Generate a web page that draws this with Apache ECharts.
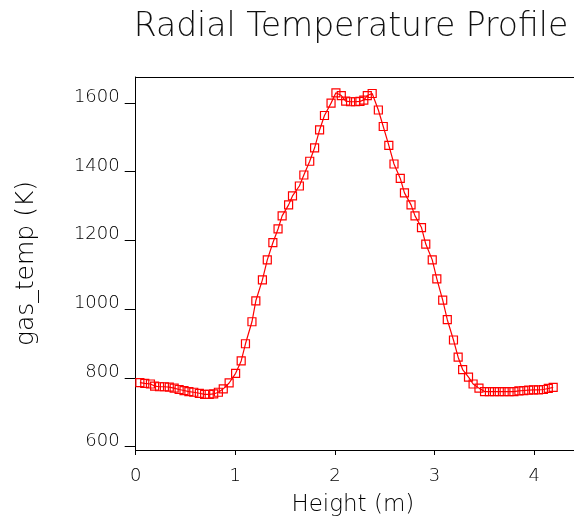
<!DOCTYPE html>
<html>
<head>
<meta charset="utf-8">
<script src="https://cdn.jsdelivr.net/npm/echarts@6/dist/echarts.min.js"></script>
<style>
  html, body { margin: 0; padding: 0; background: #ffffff; }
  #chart { width: 574px; height: 522px; }
</style>
</head>
<body>
<div id="chart"></div>
<script>
// Radial gas temperature along the height of the domain
const heights = [
  0.042, 0.091, 0.148, 0.190, 0.239, 0.288, 0.337, 0.386, 0.436, 0.485,
  0.534, 0.583, 0.639, 0.692, 0.738, 0.783, 0.830, 0.879, 0.938, 1.003,
  1.059, 1.102, 1.167, 1.206, 1.272, 1.321, 1.377, 1.429, 1.470, 1.535,
  1.574, 1.643, 1.688, 1.747, 1.796, 1.846, 1.895, 1.961, 2.010, 2.064,
  2.108, 2.157, 2.207, 2.251, 2.290, 2.325, 2.374, 2.436, 2.485, 2.541,
  2.593, 2.656, 2.698, 2.764, 2.804, 2.869, 2.912, 2.977, 3.023, 3.082,
  3.128, 3.190, 3.237, 3.282, 3.341, 3.387, 3.446, 3.502, 3.551, 3.601,
  3.650, 3.699, 3.748, 3.797, 3.847, 3.896, 3.945, 3.994, 4.043, 4.093,
  4.142, 4.191
];
const gasTemp = [
  786, 784, 782, 776, 774, 774, 773, 770, 766, 763,
  760, 758, 755, 752, 752, 753, 758, 768, 785, 813,
  849, 899, 963, 1024, 1085, 1143, 1193, 1233, 1271, 1303,
  1329, 1358, 1390, 1430, 1469, 1521, 1563, 1599, 1629, 1621,
  1605, 1603, 1603, 1604, 1608, 1621, 1627, 1579, 1531, 1476,
  1422, 1380, 1338, 1303, 1271, 1237, 1189, 1143, 1088, 1026,
  969, 910, 860, 824, 802, 782, 770, 760, 760, 760,
  760, 760, 760, 760, 762, 763, 764, 765, 765, 766,
  769, 772
];
const xTicks = [0, 1, 2, 3, 4];
const yTicks = [600, 800, 1000, 1200, 1400, 1600];

const FONT = "'DejaVu Sans', sans-serif";
const INK = '#000000';
const RED = '#ff0000';

const chart = echarts.init(document.getElementById('chart'), null, { renderer: 'canvas' });

const axisText = { color: INK, fontFamily: FONT, fontSize: 18, fontWeight: 200 };

chart.setOption({
  animation: false,
  backgroundColor: '#ffffff',
  title: {
    text: 'Radial Temperature Profile',
    left: 346,
    top: 6,
    textAlign: 'center',
    textStyle: { color: '#111111', fontFamily: FONT, fontSize: 33, fontWeight: 200 }
  },
  grid: { left: 135.7, top: 77, width: 447.3, height: 373 },
  xAxis: [
    {
      type: 'value',
      position: 'bottom',
      min: 0,
      max: 4.4,
      name: 'Height (m)',
      nameLocation: 'middle',
      nameGap: 44,
      nameTextStyle: { color: INK, fontFamily: FONT, fontSize: 23, fontWeight: 200, padding: [0, 4, 0, 0] },
      axisLine: { show: true, onZero: false, lineStyle: { color: INK, width: 1 } },
      axisTick: { show: true, customValues: xTicks, length: 5, lineStyle: { color: INK, width: 1 } },
      axisLabel: { customValues: xTicks, margin: 17, formatter: v => String(v), ...axisText },
      splitLine: { show: false }
    },
    {
      type: 'value',
      position: 'top',
      min: 0,
      max: 4.4,
      axisLine: { show: true, onZero: false, lineStyle: { color: INK, width: 1 } },
      axisTick: { show: false },
      axisLabel: { show: false },
      splitLine: { show: false }
    }
  ],
  yAxis: {
    type: 'value',
    min: 590,
    max: 1675,
    name: 'gas_temp (K)',
    nameLocation: 'middle',
    nameGap: 97,
    nameTextStyle: { color: INK, fontFamily: FONT, fontSize: 25, fontWeight: 200 },
    axisLine: { show: true, onZero: false, lineStyle: { color: INK, width: 1 } },
    axisTick: { show: true, customValues: yTicks, length: 11, lineStyle: { color: INK, width: 1 } },
    axisLabel: {
      customValues: yTicks,
      margin: 16,
      verticalAlign: 'bottom',
      lineHeight: 11,
      formatter: v => String(v),
      ...axisText
    },
    splitLine: { show: false }
  },
  series: [
    {
      type: 'line',
      xAxisIndex: 0,
      data: heights.map((h, i) => [h, gasTemp[i]]),
      symbol: 'rect',
      symbolSize: 8,
      showSymbol: true,
      lineStyle: { color: RED, width: 1.2 },
      itemStyle: { color: 'transparent', borderColor: RED, borderWidth: 1.2 }
    }
  ]
});
</script>
</body>
</html>
